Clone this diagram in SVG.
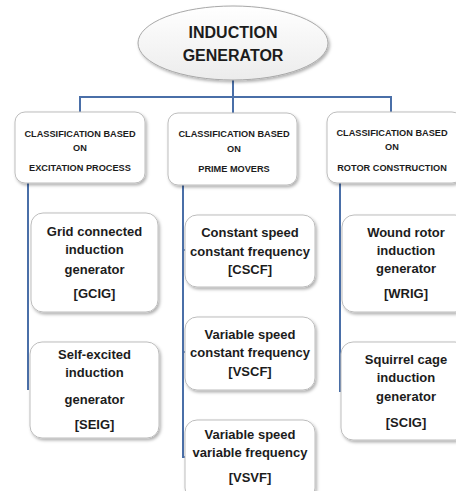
<svg xmlns="http://www.w3.org/2000/svg" width="456" height="491" viewBox="0 0 456 491">
<defs>
<filter id="sh" x="-10%" y="-10%" width="125%" height="130%">
<feDropShadow dx="1.5" dy="2" stdDeviation="1.5" flood-color="#000" flood-opacity="0.3"/>
</filter>
<linearGradient id="eg" x1="0" y1="0" x2="0" y2="1">
<stop offset="0" stop-color="#ffffff"/>
<stop offset="1" stop-color="#ececec"/>
</linearGradient>
</defs>
<style>
.box{fill:#fff;stroke:#bdbdbd;stroke-width:1;filter:url(#sh)}
.ln{stroke:#4a6fa8;stroke-width:2;fill:none}
text{font-family:"Liberation Sans",Arial,sans-serif;font-weight:bold;fill:#1c1c1c;text-anchor:middle}
.t{font-size:16px}
.c{font-size:9.2px}
.n{font-size:13px}
</style>
<rect width="456" height="491" fill="#fff"/>
<g id="connectors">
<path class="ln" d="M233 80V97M80 97H391M80 96V112M233 96V113M391 96V112"/>
<path class="ln" d="M28 183V390"/>
<path class="ln" d="M183 185V457H186M183 250H186M183 352H186"/>
<path class="ln" d="M340 183V392"/>
</g>
<g id="root">
<ellipse cx="233" cy="43" rx="95" ry="37" fill="url(#eg)" stroke="#a8a8a8" stroke-width="1" filter="url(#sh)"/>
<text class="t" x="233" y="38">INDUCTION</text>
<text class="t" x="233" y="61">GENERATOR</text>
</g>
<g id="class-excitation">
<rect class="box" x="15" y="112" width="130" height="71" rx="10"/>
<text class="c" x="80" y="136.5">CLASSIFICATION BASED</text>
<text class="c" x="80" y="150.5">ON</text>
<text class="c" x="80" y="170.5">EXCITATION PROCESS</text>
</g>
<g id="class-prime">
<rect class="box" x="168" y="113" width="129" height="72" rx="10"/>
<text class="c" x="234" y="136.5">CLASSIFICATION BASED</text>
<text class="c" x="234" y="151.5">ON</text>
<text class="c" x="234" y="171.5">PRIME MOVERS</text>
</g>
<g id="class-rotor">
<rect class="box" x="327" y="112" width="135" height="71" rx="10"/>
<text class="c" x="392" y="135.5">CLASSIFICATION BASED</text>
<text class="c" x="392" y="149.5">ON</text>
<text class="c" x="392" y="170.5">ROTOR CONSTRUCTION</text>
</g>
<g id="gcig">
<rect class="box" x="31" y="213" width="127" height="99" rx="12"/>
<text class="n" x="94.5" y="236">Grid connected</text>
<text class="n" x="94.5" y="254">induction</text>
<text class="n" x="94.5" y="274">generator</text>
<text class="n" x="94.5" y="298">[GCIG]</text>
</g>
<g id="seig">
<rect class="box" x="30" y="342" width="129" height="96" rx="12"/>
<text class="n" x="94.5" y="359">Self-excited</text>
<text class="n" x="94.5" y="377">induction</text>
<text class="n" x="94.5" y="404">generator</text>
<text class="n" x="94.5" y="429">[SEIG]</text>
</g>
<g id="cscf">
<rect class="box" x="185" y="215" width="130" height="72" rx="12"/>
<text class="n" x="250" y="237">Constant speed</text>
<text class="n" x="250" y="256">constant frequency</text>
<text class="n" x="250" y="274">[CSCF]</text>
</g>
<g id="vscf">
<rect class="box" x="185" y="317" width="130" height="73" rx="12"/>
<text class="n" x="250" y="339">Variable speed</text>
<text class="n" x="250" y="357">constant frequency</text>
<text class="n" x="250" y="376">[VSCF]</text>
</g>
<g id="vsvf">
<rect class="box" x="185" y="420" width="130" height="80" rx="12"/>
<text class="n" x="250" y="439">Variable speed</text>
<text class="n" x="250" y="457">variable frequency</text>
<text class="n" x="250" y="482">[VSVF]</text>
</g>
<g id="wrig">
<rect class="box" x="342" y="215" width="125" height="97" rx="12"/>
<text class="n" x="406" y="237">Wound rotor</text>
<text class="n" x="406" y="255">induction</text>
<text class="n" x="406" y="273">generator</text>
<text class="n" x="406" y="298">[WRIG]</text>
</g>
<g id="scig">
<rect class="box" x="341" y="342" width="126" height="98" rx="12"/>
<text class="n" x="406" y="364">Squirrel cage</text>
<text class="n" x="406" y="382">induction</text>
<text class="n" x="406" y="401">generator</text>
<text class="n" x="406" y="427">[SCIG]</text>
</g>
</svg>
